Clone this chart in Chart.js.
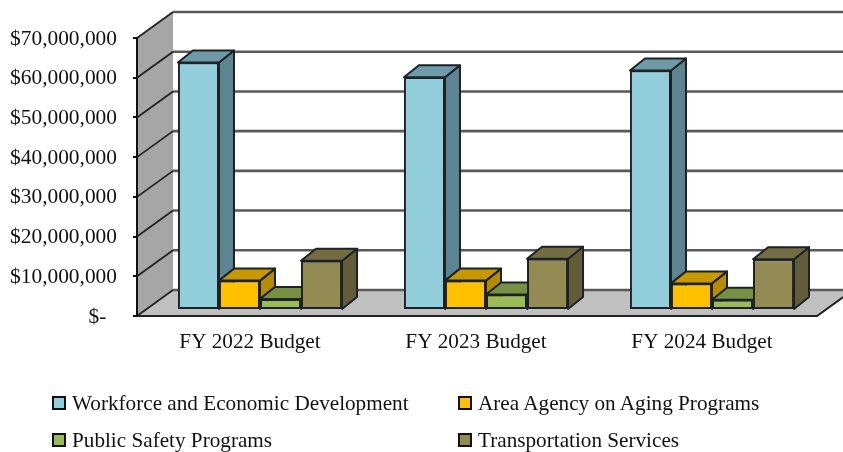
<!DOCTYPE html>
<html>
<head>
<meta charset="utf-8">
<title>Budget by Program</title>
<script src="https://cdn.jsdelivr.net/npm/chart.js@4"></script>
<style>
  html, body { margin: 0; padding: 0; background: #fff; }
  #wrap { position: relative; width: 843px; height: 452px; overflow: hidden; }
  #legend div {
    position: absolute; white-space: nowrap; color: #111;
    font: 21.2px "Liberation Serif", "Times New Roman", serif; line-height: 24px;
  }
  #legend i {
    position: absolute; left: -20px; top: 5px; width: 10px; height: 10px;
    border: 2px solid #111; box-sizing: content-box;
  }
</style>
</head>
<body>
<div id="wrap">
  <canvas id="budgetChart" width="843" height="452"></canvas>
  <div id="legend"></div>
</div>
<script>
// Chart data, in dollars
const categories = ["FY 2022 Budget", "FY 2023 Budget", "FY 2024 Budget"];
const workforce = [62300000, 58600000, 60300000];
const agingPrograms = [7400000, 7400000, 6700000];
const publicSafety = [2800000, 3900000, 2600000];
const transportation = [12400000, 12900000, 12800000];
const seriesNames = [
  "Workforce and Economic Development",
  "Area Agency on Aging Programs",
  "Public Safety Programs",
  "Transportation Services",
];
const yTickLabels = ["$-  ", "$10,000,000", "$20,000,000", "$30,000,000", "$40,000,000", "$50,000,000", "$60,000,000", "$70,000,000"];

// Face colours for each series: front, top, side
const frontColors = ["#92cddc", "#ffc000", "#9bbb59", "#948a54"];
const topColors = ["#6f9aa8", "#c89800", "#779044", "#746c42"];
const sideColors = ["#5c8491", "#b58b00", "#66803a", "#625c38"];
const outline = "#1c2326";
const serif = '"Liberation Serif", "Times New Roman", serif';

// Fake 3D offsets in pixels
const wallDepth = { x: 36, y: -26 };
const barShift = { x: 10, y: -6 };
const barDepth = { x: 15, y: -12 };
const floorOverhang = 2;

function face(ctx, points, fill, stroke, lineWidth) {
  ctx.beginPath();
  points.forEach((p, i) => (i ? ctx.lineTo(p[0], p[1]) : ctx.moveTo(p[0], p[1])));
  ctx.closePath();
  ctx.fillStyle = fill;
  ctx.fill();
  if (stroke) {
    ctx.strokeStyle = stroke;
    ctx.lineWidth = lineWidth;
    ctx.lineJoin = "round";
    ctx.stroke();
  }
}

// Walls, floor and gridlines behind the bars
const wallsPlugin = {
  id: "walls",
  beforeDraw(chart) {
    const { ctx, chartArea, scales } = chart;
    const { left, top, bottom } = chartArea;
    const right = chartArea.right + floorOverhang;
    const dx = wallDepth.x;
    const dy = wallDepth.y;
    ctx.save();
    face(ctx, [[left, top], [left + dx, top + dy], [left + dx, bottom + dy], [left, bottom]], "#a6a6a6");
    face(ctx, [[left, bottom], [right, bottom], [right + dx, bottom + dy], [left + dx, bottom + dy]], "#c0c0c0");

    // Each gridline runs along the back wall and down the left wall to its tick
    ctx.strokeStyle = "#595959";
    ctx.lineWidth = 2.6;
    scales.y.ticks.forEach((tick) => {
      const y = scales.y.getPixelForValue(tick.value);
      ctx.beginPath();
      ctx.moveTo(left + dx, y + dy);
      ctx.lineTo(chart.width, y + dy);
      ctx.stroke();
    });
    ctx.strokeStyle = "#222";
    ctx.lineWidth = 1.8;
    scales.y.ticks.forEach((tick) => {
      const y = scales.y.getPixelForValue(tick.value);
      ctx.beginPath();
      ctx.moveTo(left, y);
      ctx.lineTo(left + dx, y + dy);
      ctx.stroke();
    });
    ctx.beginPath();
    ctx.moveTo(left, bottom);
    ctx.lineTo(right, bottom);
    ctx.lineTo(right + dx, bottom + dy);
    ctx.lineWidth = 2;
    ctx.stroke();
    ctx.restore();
  },
};

// Paint the boxes left to right so each one overlaps the side of the one before it
const boxPlugin = {
  id: "boxes",
  beforeDatasetsDraw(chart) {
    const { ctx } = chart;
    const dx = barDepth.x;
    const dy = barDepth.y;
    ctx.save();
    ctx.translate(barShift.x, barShift.y);
    seriesValues.forEach((values, i) => {
      chart.getDatasetMeta(i).data.forEach((bar) => {
        const l = bar.x - bar.width / 2;
        const r = bar.x + bar.width / 2;
        face(ctx, [[r, bar.y], [r + dx, bar.y + dy], [r + dx, bar.base + dy], [r, bar.base]], sideColors[i], outline, 2);
        face(ctx, [[l, bar.y], [l + dx, bar.y + dy], [r + dx, bar.y + dy], [r, bar.y]], topColors[i], outline, 2);
        bar.draw(ctx);
      });
    });
    ctx.restore();
  },
  // the fronts are already painted above
  beforeDatasetDraw() {
    return false;
  },
};

const seriesValues = [workforce, agingPrograms, publicSafety, transportation];

new Chart(document.getElementById("budgetChart"), {
  type: "bar",
  data: {
    labels: categories,
    datasets: seriesValues.map((values, i) => ({
      label: seriesNames[i],
      data: values,
      backgroundColor: frontColors[i],
      borderColor: outline,
      borderWidth: 2,
      borderSkipped: false,
      categoryPercentage: 0.726,
      barPercentage: 1,
    })),
  },
  options: {
    responsive: false,
    animation: false,
    layout: { padding: { top: 38, right: 28, bottom: 0, left: 0 } },
    plugins: { legend: { display: false }, tooltip: { enabled: false } },
    scales: {
      x: {
        afterFit(scale) { scale.height = 136; },
        grid: { display: false },
        border: { display: false },
        ticks: { color: "#111", padding: 6, font: { family: serif, size: 21.2 }, maxRotation: 0 },
      },
      y: {
        min: 0,
        max: 70000000,
        afterFit(scale) { scale.width = 137; },
        grid: { drawOnChartArea: false, color: "#111", tickLength: 4, lineWidth: 2 },
        border: { display: true, color: "#111", width: 2 },
        ticks: {
          stepSize: 10000000,
          color: "#111",
          padding: 16,
          labelOffset: 1,
          font: { family: serif, size: 21.4 },
          callback: (value) => yTickLabels[value / 10000000],
        },
      },
    },
  },
  plugins: [wallsPlugin, boxPlugin],
});

// Two column legend under the chart
const legendColumns = [72, 478];
const legendRows = [391, 428];
const legendBox = document.getElementById("legend");
seriesNames.forEach((name, i) => {
  const item = document.createElement("div");
  item.style.left = legendColumns[i % 2] + "px";
  item.style.top = legendRows[Math.floor(i / 2)] + "px";
  item.textContent = name;
  const swatch = document.createElement("i");
  swatch.style.background = frontColors[i];
  item.appendChild(swatch);
  legendBox.appendChild(item);
});
</script>
</body>
</html>
